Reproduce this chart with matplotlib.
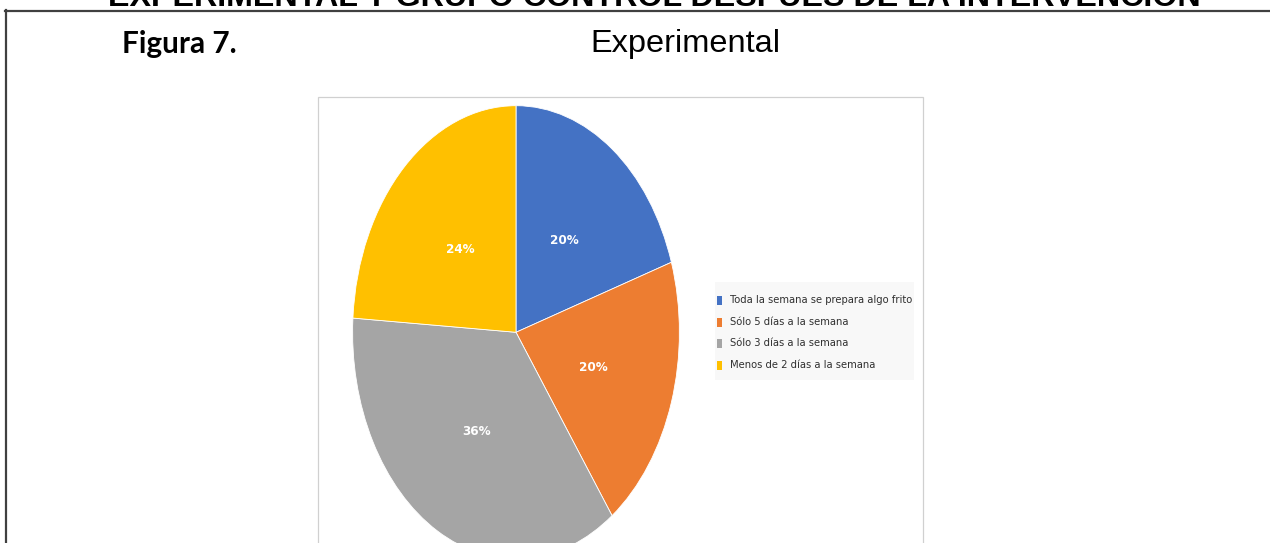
import matplotlib
matplotlib.use("Agg")
import matplotlib.pyplot as plt
from matplotlib import font_manager
from matplotlib.font_manager import FontProperties
from matplotlib.patches import Rectangle
from matplotlib.lines import Line2D

# ---- data ----
categories = [
    "Toda la semana se prepara algo frito",
    "Sólo 5 días a la semana",
    "Sólo 3 días a la semana",
    "Menos de 2 días a la semana",
]
shares = [20, 20, 36, 24]
colors = ["#4472C4", "#ED7D31", "#A5A5A5", "#FFC000"]
page_title = "EXPERIMENTAL Y GRUPO CONTROL DESPUES DE LA INTERVENCION"
figure_label = "Figura 7."
chart_title = "Experimental"

W, H = 1270, 543
fig = plt.figure(figsize=(W / 100, H / 100), dpi=100)


def fx(px):
    return px / W


def fy(py):
    return 1 - py / H


def narrow_face(bold):
    """Return a condensed sans-serif face if one is installed."""
    prefs = ["Liberation Sans Narrow", "DejaVu Sans", "Noto Sans", "Roboto", "Open Sans"]
    hits = []
    for f in font_manager.fontManager.ttflist:
        name = f.name
        if "Serif" in name or "Mono" in name or f.style != "normal":
            continue
        is_narrow = ("Narrow" in name or "Condensed" in name
                     or str(f.stretch) in ("condensed", "semi-condensed",
                                           "extra-condensed", "ultra-condensed"))
        if not is_narrow:
            continue
        w = f.weight if isinstance(f.weight, int) else (700 if "bold" in str(f.weight) else 400)
        if bold and w < 600:
            continue
        if not bold and w >= 600:
            continue
        rank = next((i for i, p in enumerate(prefs) if name.startswith(p)), len(prefs))
        hits.append((rank, abs(w - (700 if bold else 400)), f.fname))
    if hits:
        hits.sort()
        return hits[0][2]
    return None


nb = narrow_face(True)
nr = narrow_face(False)
label_font = FontProperties(fname=nb) if nb else FontProperties(family="Lato", weight="bold")
legend_font = FontProperties(fname=nr) if nr else FontProperties(family="Lato")
label_size = 9.6 if nb else 9.0
legend_size = 8.0 if nr else 7.8

# ---- page decorations ----
fig.text(fx(654), fy(6.0), page_title, ha="center", va="baseline",
         family="Liberation Sans", weight="bold", fontsize=23.2, color="black")
fig.add_artist(Line2D([fx(5), fx(1270)], [fy(10.5), fy(10.5)],
                      color="#404040", lw=1.6))
fig.add_artist(Line2D([fx(6), fx(6)], [fy(10), fy(545)],
                      color="#404040", lw=1.6))
fig.text(fx(122), fy(53), figure_label, ha="left", va="baseline",
         family="Lato", weight="bold", fontsize=21.4, color="black")
fig.text(fx(685), fy(52), chart_title, ha="center", va="baseline",
         family="Liberation Sans", fontsize=23.4, color="black")

# chart frame
fig.add_artist(Rectangle((fx(318), fy(560)), fx(923) - fx(318), fy(97) - fy(560),
                         transform=fig.transFigure, facecolor="white",
                         edgecolor="#d0d0d0", lw=0.9, zorder=0))

# ---- pie (stretched vertically) ----
cx, cy, rx, ry = 516, 332.3, 163.4, 226.6
ax = fig.add_axes([fx(cx - rx), fy(cy + ry), fx(2 * rx), (2 * ry) / H])
wedges, _, autotexts = ax.pie(
    shares, colors=colors, startangle=90, counterclock=False,
    autopct="%1.0f%%", pctdistance=0.5,
    wedgeprops=dict(edgecolor="white", linewidth=0.6),
)
for t in autotexts:
    t.set_fontproperties(label_font)
    t.set_fontsize(label_size)
    t.set_color("white")
ax.set_aspect("auto")
ax.set_xlim(-1, 1)
ax.set_ylim(-1, 1)
ax.axis("off")

# ---- legend ----
fig.add_artist(Rectangle((fx(715), fy(380)), fx(914) - fx(715), fy(282) - fy(380),
                         transform=fig.transFigure, facecolor="#f8f8f8",
                         edgecolor="none", zorder=1))
row_y = [300, 322, 343.5, 365]
for name, col, y in zip(categories, colors, row_y):
    fig.add_artist(Rectangle((fx(716.5), fy(y + 4.5)), fx(5), 9 / H,
                             transform=fig.transFigure, facecolor=col,
                             edgecolor="none", zorder=2))
    fig.text(fx(729.5), fy(y), name, ha="left", va="center",
             fontproperties=legend_font, fontsize=legend_size, color="#303030",
             zorder=3)

fig.savefig("out.png", dpi=100)
